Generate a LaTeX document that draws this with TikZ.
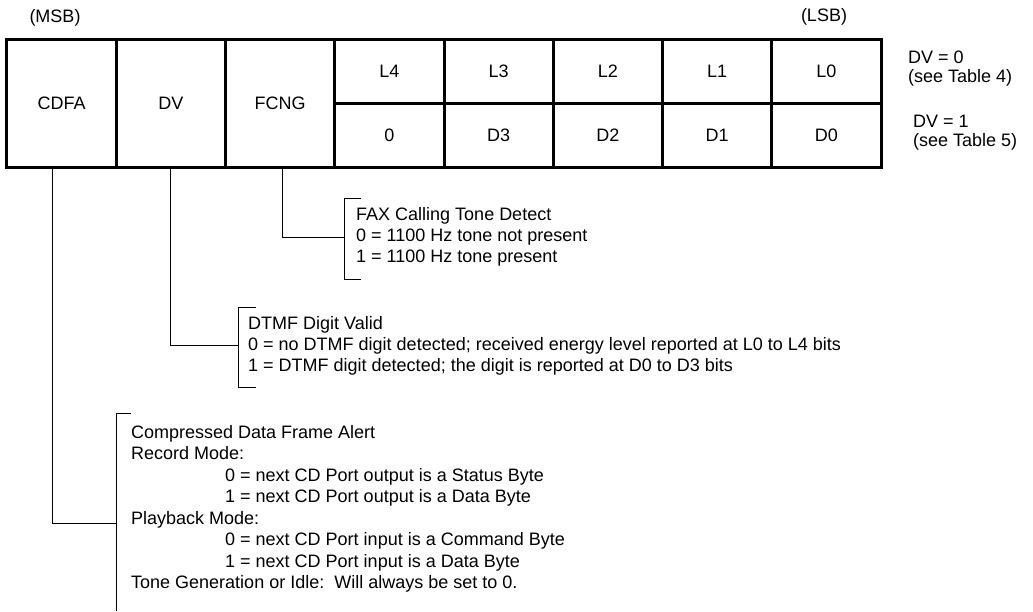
\documentclass[tikz,border=0pt]{standalone}
\usepackage{fontspec}
\setmainfont{Liberation Sans}
\usetikzlibrary{positioning, calc}

\begin{document}
\begin{tikzpicture}[x=1pt, y=-1pt,
    every node/.style={inner sep=0pt, font=\fontsize{18}{20.7}\selectfont},
    fieldCell/.style={
        draw, line width=3pt,
        minimum width=109.25pt, minimum height=128pt
      },
    bitCell/.style={
        draw, line width=3pt,
        minimum width=109.25pt, minimum height=64pt
      },
    sideNote/.style={align=left, anchor=west, font=\fontsize{18}{19}\selectfont},
    descText/.style={align=left, anchor=west},
    leader/.style={line width=1pt}
  ]
  \useasboundingbox (0,0) rectangle (1033,611);

  % register fields
  \node[fieldCell] (cdfa) at (61.6,103) {CDFA};
  \node[fieldCell] (dv) at (170.9,103) {DV};
  \node[fieldCell] (fcng) at (280.1,103) {FCNG};
  \foreach \i/\up/\down in {0/L4/0, 1/L3/D3, 2/L2/D2, 3/L1/D1, 4/L0/D0} {
      \node[bitCell] (up\i) at (389.4+109.25*\i,71) {\up};
      \node[bitCell] (down\i) at (389.4+109.25*\i,135) {\down};
    }

  \node (msb) at (55,18) {(MSB)};
  \node (lsb) at (824,17) {(LSB)};
  \node[sideNote] (dvzero) at (908,69) {DV = 0\\(see Table 4)};
  \node[sideNote] (dvone) at (913,133) {DV = 1\\(see Table 5)};

  % descriptions
  \node[descText] (faxText) at (356,237) {FAX Calling Tone Detect\\
    0 = 1100 Hz tone not present\\
    1 = 1100 Hz tone present};
  \node[descText] (dtmfText) at (248,346) {DTMF Digit Valid\\
    0 = no DTMF digit detected; received energy level reported at L0 to L4 bits\\
    1 = DTMF digit detected; the digit is reported at D0 to D3 bits};
  \node[descText, font=\fontsize{18}{21.5}\selectfont] (cdfaText) at (131,509) {Compressed Data Frame Alert\\
    Record Mode:\\
    \hspace*{94pt}0 = next CD Port output is a Status Byte\\
    \hspace*{94pt}1 = next CD Port output is a Data Byte\\
    Playback Mode:\\
    \hspace*{94pt}0 = next CD Port input is a Command Byte\\
    \hspace*{94pt}1 = next CD Port input is a Data Byte\\
    Tone Generation or Idle:\ \ Will always be set to 0.};

  % brackets
  \coordinate (faxBr) at (344,237);
  \coordinate (dtmfBr) at (238,345);
  \coordinate (cdfaBr) at (116,523);
  \draw[leader] ($(faxBr)+(17,-39)$) -- ++(-17,0) -- ++(0,81) -- ++(17,0);
  \draw[leader] ($(dtmfBr)+(18,-38)$) -- ++(-18,0) -- ++(0,80) -- ++(18,0);
  \draw[leader] ($(cdfaBr)+(15,-110)$) -- ++(-15,0) -- ++(0,198);

  % leaders
  \draw[leader] ([xshift=-9.6pt]cdfa.south) |- (cdfaBr);
  \draw[leader] (dv.south) |- (dtmfBr);
  \draw[leader] ([xshift=2pt]fcng.south) |- (faxBr);
\end{tikzpicture}
\end{document}
